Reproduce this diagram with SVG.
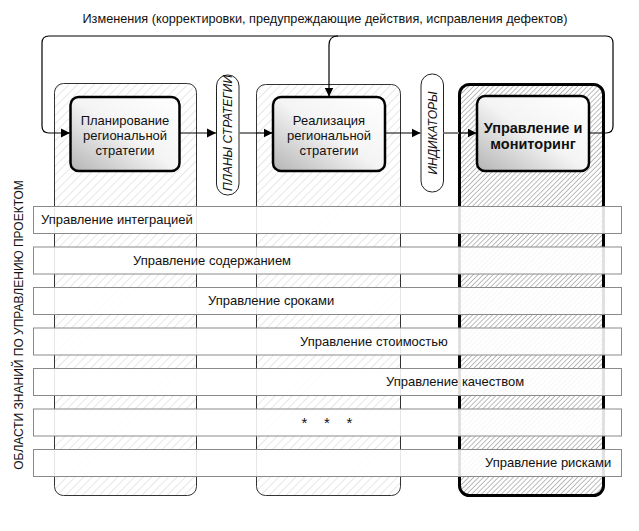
<svg xmlns="http://www.w3.org/2000/svg" width="639" height="531" viewBox="0 0 639 531">
<defs>
<style>
text{font-family:"Liberation Sans",Arial,sans-serif;fill:#111}
.col{stroke:#333;stroke-width:1;fill:url(#hatchL)}
.col3{stroke:#000;stroke-width:3;fill:url(#hatchD)}
.box{stroke:#000;stroke-width:2.5;fill:url(#grad)}
.pill{stroke:#222;stroke-width:1;fill:#fff}
.row{stroke:#8a8a8a;stroke-width:1;fill:#fff;fill-opacity:0.88}
.conn{stroke:#000;stroke-width:1.2;fill:none}
.gray{stroke:#808080;stroke-width:2;fill:none}
.t13{font-size:13px;text-anchor:middle}
.rowt{font-size:13px}
.pillt{font-size:12px;font-style:italic;text-anchor:middle}
</style>
<pattern id="hatchL" patternUnits="userSpaceOnUse" width="6" height="6" patternTransform="rotate(45)">
<rect width="6" height="6" fill="#fff"/>
<line x1="0" y1="0" x2="0" y2="6" stroke="#d0d0d0" stroke-width="1"/>
</pattern>
<pattern id="hatchD" patternUnits="userSpaceOnUse" width="3.5" height="3.5" patternTransform="rotate(45)">
<rect width="3.5" height="3.5" fill="#fff"/>
<line x1="0" y1="0" x2="0" y2="3.5" stroke="#7a7a7a" stroke-width="1"/>
</pattern>
<linearGradient id="grad" x1="0" y1="1" x2="1" y2="0">
<stop offset="0" stop-color="#b4b4b4"/>
<stop offset="0.5" stop-color="#f4f4f4"/>
<stop offset="1" stop-color="#ffffff"/>
</linearGradient>
<marker id="arr" markerWidth="10" markerHeight="10" refX="9" refY="5" orient="auto" markerUnits="userSpaceOnUse">
<path d="M0,0.5 L9,5 L0,9.5 z" fill="#000"/>
</marker>
</defs>
<rect width="639" height="531" fill="#fff"/>

<text x="325" y="23" style="font-size:12.7px;text-anchor:middle">Изменения (корректировки, предупреждающие действия, исправления дефектов)</text>

<g id="column1"><rect class="col" x="54.5" y="83.5" width="142" height="412" rx="9"/></g>
<g id="column2"><rect class="col" x="256.5" y="84.5" width="144" height="411" rx="9"/></g>
<g id="column3"><rect class="col3" x="459.5" y="84.5" width="144" height="411" rx="10"/></g>

<g id="planning">
<rect class="box" x="70.5" y="97" width="109" height="74" rx="8"/>
<text class="t13" x="125" y="124.5">Планирование</text>
<text class="t13" x="125" y="139.5">региональной</text>
<text class="t13" x="125" y="154.5">стратегии</text>
</g>
<g id="plans">
<rect class="pill" x="216.5" y="75" width="22.5" height="120" rx="11"/>
<text class="pillt" transform="translate(232,133) rotate(-90)">ПЛАНЫ СТРАТЕГИИ</text>
</g>
<g id="realization">
<rect class="box" x="273" y="97" width="112" height="74" rx="8"/>
<text class="t13" x="329" y="124.5">Реализация</text>
<text class="t13" x="329" y="139.5">региональной</text>
<text class="t13" x="329" y="154.5">стратегии</text>
</g>
<g id="indicators">
<rect class="pill" x="421" y="74" width="22.5" height="118" rx="11"/>
<text class="pillt" transform="translate(436.5,133) rotate(-90)">ИНДИКАТОРЫ</text>
</g>
<g id="management">
<rect class="box" x="477" y="96" width="112" height="75" rx="8"/>
<text x="533" y="133" style="font-size:14.5px;font-weight:bold;text-anchor:middle">Управление и</text>
<text x="533" y="149" style="font-size:14.5px;font-weight:bold;text-anchor:middle">мониторинг</text>
</g>

<g id="connectors">
<path class="conn" d="M589,133 H606 Q613,133 613,126 V43 Q613,36 606,36 H49 Q42,36 42,43 V126 Q42,133 49,133 H70" marker-end="url(#arr)"/>
<path class="conn" d="M338,36 Q329,36 329,45 V96.5" marker-end="url(#arr)"/>
<path class="conn" d="M179.5,133 H216" marker-end="url(#arr)"/>
<path class="gray" d="M239,133 H256"/>
<path class="conn" d="M256,133 H272.5" marker-end="url(#arr)"/>
<path class="conn" d="M385,133 H420.5" marker-end="url(#arr)"/>
<path class="gray" d="M443.5,133 H459"/>
<path class="conn" d="M459,133 H476.5" marker-end="url(#arr)"/>
</g>

<g id="row1"><rect class="row" x="33.5" y="206.5" width="588" height="27"/><text class="rowt" x="41" y="224">Управление интеграцией</text></g>
<g id="row2"><rect class="row" x="33.5" y="247" width="588" height="27"/><text class="rowt" x="133" y="264.5">Управление содержанием</text></g>
<g id="row3"><rect class="row" x="33.5" y="287.5" width="588" height="27"/><text class="rowt" x="208" y="305">Управление сроками</text></g>
<g id="row4"><rect class="row" x="33.5" y="328" width="588" height="27"/><text class="rowt" x="300" y="345.5">Управление стоимостью</text></g>
<g id="row5"><rect class="row" x="33.5" y="368.5" width="588" height="27"/><text class="rowt" x="386" y="386">Управление качеством</text></g>
<g id="row6"><rect class="row" x="33.5" y="409" width="588" height="27"/><text class="rowt" x="327" y="428" style="text-anchor:middle;font-size:15px" xml:space="preserve">*    *    *</text></g>
<g id="row7"><rect class="row" x="33.5" y="449.5" width="588" height="27"/><text class="rowt" x="485" y="467">Управление рисками</text></g>

<text transform="translate(22.5,325) rotate(-90)" style="font-size:12px;text-anchor:middle">ОБЛАСТИ ЗНАНИЙ ПО УПРАВЛЕНИЮ ПРОЕКТОМ</text>
</svg>
